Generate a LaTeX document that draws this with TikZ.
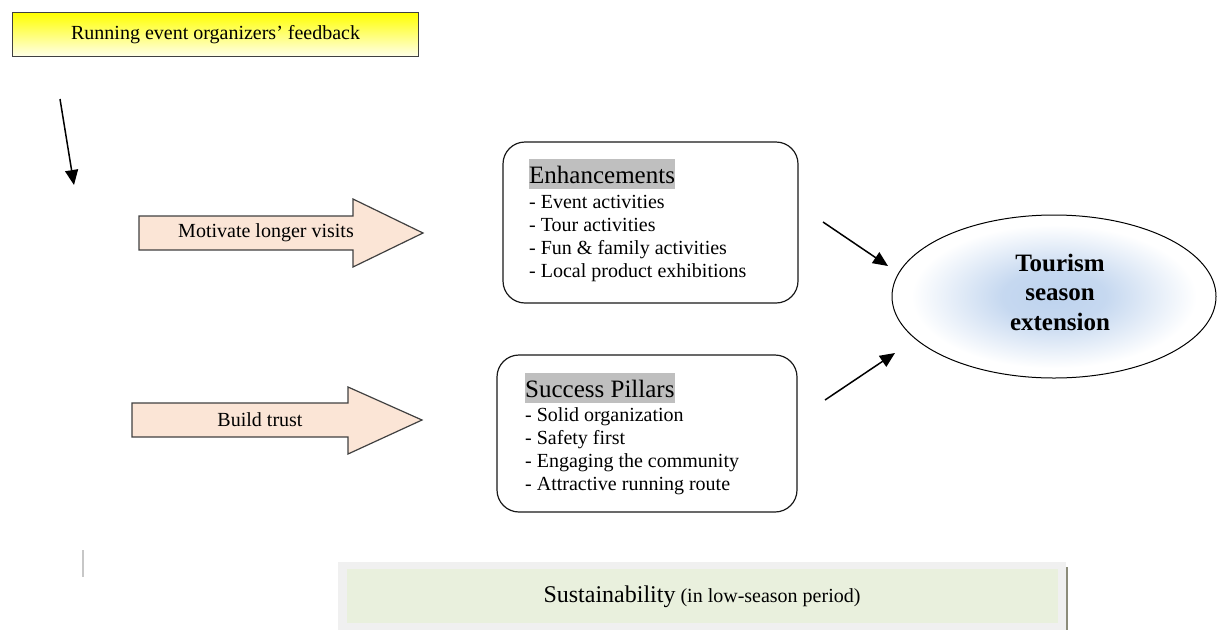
\documentclass[tikz,border=0pt]{standalone}
\usepackage{fontspec}
\setmainfont{Liberation Serif}
\usetikzlibrary{arrows.meta,shapes.geometric}
\definecolor{peach}{RGB}{251,229,214}
\definecolor{edgegray}{RGB}{64,64,64}
\definecolor{titlegray}{RGB}{191,191,191}
\definecolor{cblue}{RGB}{190,211,238}
\definecolor{sgreen}{RGB}{233,240,221}
\definecolor{sgray}{RGB}{240,240,240}
\definecolor{sline}{RGB}{140,140,122}
\definecolor{topyellow}{RGB}{255,255,0}
\definecolor{botyellow}{RGB}{255,255,235}
\pgfdeclareradialshading{tseshade}{\pgfpoint{0bp}{0bp}}{color(0bp)=(cblue); color(8bp)=(cblue!88!white); color(22bp)=(white); color(25bp)=(white); color(50bp)=(white)}
\tikzset{
  blockarrow/.style={fill=peach, draw=edgegray, line width=1.2pt, line join=miter},
  lbl/.style={font=\fontsize{20}{23}\selectfont, inner sep=0pt},
  roundbox/.style={draw=black!90, line width=1.2pt, rounded corners=22pt, fill=white},
  boxtitle/.style={fill=titlegray, inner xsep=0pt, inner ysep=0pt, text height=24pt, text depth=6pt, anchor=base west, font=\fontsize{25}{29}\selectfont},
  boxitems/.style={anchor=base west, align=left, inner sep=0pt, font=\fontsize{20}{23}\selectfont},
  conn/.style={line width=1.5pt, -{Triangle[length=15pt,width=13pt]}}
}
\begin{document}
\begin{tikzpicture}[x=1pt,y=-1pt]
\useasboundingbox (0,0) rectangle (1217,630);

% top box
\node[draw=edgegray, line width=1.2pt, top color=topyellow, bottom color=botyellow,
      minimum width=406pt, minimum height=44pt, inner sep=0pt, anchor=north west,
      font=\fontsize{20}{23}\selectfont] (fb) at (12,12) {Running event organizers’ feedback};

% top arrow
\coordinate (a1s) at (60,99);
\coordinate (a1e) at (74,185);
\draw[conn] (a1s) -- (a1e);

% block arrows
\draw[blockarrow] (139,216) -- (353,216) -- (353,199) -- (423,233) -- (353,267) -- (353,250) -- (139,250) -- cycle;
\node[lbl] (mot) at (266,233) {Motivate longer visits};
\draw[blockarrow] (132,403) -- (348,403) -- (348,387) -- (422,420) -- (348,454) -- (348,437) -- (132,437) -- cycle;
\node[lbl] (trust) at (260,420) {Build trust};

% Enhancements box
\draw[roundbox] (503,142) rectangle (798,303);
\node[boxtitle] (enh) at (529,183) {Enhancements};
\node[boxitems] (enhitems) at (529,277) {- Event activities\\- Tour activities\\- Fun \& family activities\\- Local product exhibitions};

% Success Pillars box
\draw[roundbox] (497,355) rectangle (797,512);
\node[boxtitle] (sp) at (525,397) {Success Pillars};
\node[boxitems] (spitems) at (525,490) {- Solid organization\\- Safety first\\- Engaging the community\\- Attractive running route};

% ellipse
\node[ellipse, draw=black, line width=1pt, shading=tseshade, minimum width=324pt, minimum height=163pt, inner sep=0pt] (tse) at (1054,296.5) {};
\node[align=center, inner sep=0pt, font=\bfseries\fontsize{25}{29.5}\selectfont] (tsetext) at (1060,292) {Tourism\\season\\extension};

% arrows to ellipse
\coordinate (a2s) at (823,222);
\coordinate (a2e) at (888,266);
\draw[conn] (a2s) -- (a2e);
\coordinate (a3s) at (825,400);
\coordinate (a3e) at (895,353);
\draw[conn] (a3s) -- (a3e);

% small vertical line
\coordinate (v1) at (83,550);
\coordinate (v2) at (83,577);
\draw[line width=1.5pt, black!22] (v1) -- (v2);

% sustainability
\fill[sgray] (338,562) rectangle (1066,630);
\fill[sgreen] (347,569) rectangle (1058,623);
\coordinate (s1) at (1067,567);
\coordinate (s2) at (1067,630);
\draw[line width=1.5pt, sline] (s1) -- (s2);
\node[anchor=base, inner sep=0pt] (sust) at (702,602) {{\fontsize{24}{24}\selectfont Sustainability}\hspace{5pt}{\fontsize{20}{20}\selectfont (in low-season period)}};
\end{tikzpicture}
\end{document}
